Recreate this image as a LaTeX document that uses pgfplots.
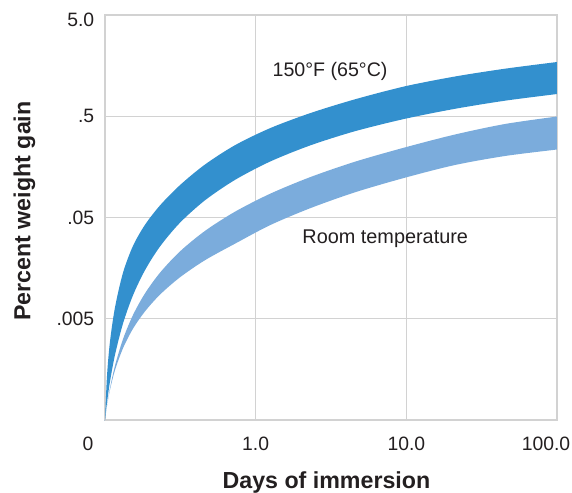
\documentclass[border=0pt]{standalone}
\usepackage{fontspec}
\setmainfont{Liberation Sans}
\usepackage{pgfplots}
\pgfplotsset{compat=1.18}

\definecolor{hotband}{RGB}{51,144,206}
\definecolor{roomband}{RGB}{123,172,220}
\definecolor{gridgray}{RGB}{210,210,210}
\definecolor{txt}{RGB}{35,31,32}

\begin{document}
\begin{tikzpicture}
\useasboundingbox (-78.75pt,-54.75pt) rectangle (350.25pt,315pt);
\begin{axis}[
  scale only axis,
  width=339pt, height=303.75pt,
  xmode=log, ymode=log,
  xmin=0.1, xmax=100, ymin=0.0005, ymax=5,
  xtick={0.1,1,10,100},
  xticklabels={\hbox to 0pt{\hss 0\hskip 25.5pt\hss}, 1.0, 10.0, \hbox to 0pt{\hss 100.0\hskip 16.5pt\hss}},
  ytick={0.005,0.05,0.5,5},
  yticklabels={.005, .05, .5, \raisebox{-3.75pt}[\height][0pt]{5.0}},
  xminorticks=false, yminorticks=false,
  major tick length=0pt,
  grid=major,
  major grid style={draw=gridgray, line width=1.1pt},
  axis line style={draw=gridgray, line width=1.1pt},
  /pgf/number format/assume math mode=true,
  ticklabel style={font=\fontsize{14.5}{17}\selectfont, text=txt},
  xticklabel style={anchor=base, yshift=-22.5pt},
  yticklabel style={anchor=east, inner sep=0pt, xshift=-7.9pt},
  xlabel={Days of immersion},
  ylabel={Percent weight gain},
  every axis x label/.style={at={(axis description cs:0.49,-0.168)}, anchor=base,
    font=\bfseries\fontsize{17.4}{20}\selectfont, text=txt},
  every axis y label/.style={at={(axis description cs:-0.178,0.516)}, rotate=90, anchor=center,
    font=\bfseries\fontsize{17.4}{20}\selectfont, text=txt},
]

% 150 F band: upper edge left to right, then lower edge right to left
\addplot[fill=hotband, draw=none, smooth, tension=0.5] coordinates {
  (0.1,0.0005) (0.1,0.0005) (0.1031,0.00136) (0.1079,0.002967) (0.1165,0.0064725)
  (0.1317,0.014249) (0.1534,0.02621) (0.1843,0.042352) (0.2318,0.06584) (0.3146,0.10447)
  (0.461,0.16689) (0.7291,0.25885) (1.2448,0.38103) (2.294,0.5359) (4.564,0.7352)
  (9.797,0.9881) (21.04,1.2347) (45.17,1.4743) (100,1.717) (100,1.717)
  (100,0.8294) (100,0.8294) (45.17,0.7121) (21.04,0.5923) (9.797,0.4719)
  (4.564,0.3559) (2.294,0.2571) (1.2448,0.17825) (0.7291,0.11758) (0.461,0.07394)
  (0.3146,0.04442) (0.2318,0.025856) (0.1843,0.015083) (0.1534,0.008523) (0.1317,0.004488)
  (0.1165,0.002198) (0.1079,0.001192) (0.1031,0.000739) (0.1,0.0005) (0.1,0.0005)
};

% room temperature band
\addplot[fill=roomband, draw=none, smooth, tension=0.5] coordinates {
  (0.1,0.0005) (0.1,0.0005) (0.1031,0.000692) (0.1079,0.0010306) (0.1165,0.0017229)
  (0.1317,0.0031477) (0.1534,0.005445) (0.1843,0.008899) (0.2318,0.01425) (0.3146,0.023129)
  (0.461,0.036867) (0.7291,0.05705) (1.2448,0.08572) (2.294,0.12502) (4.564,0.17787)
  (9.797,0.24622) (21.04,0.33016) (45.17,0.41921) (100,0.49717) (100,0.49717)
  (100,0.23473) (100,0.23473) (45.17,0.20248) (21.04,0.16501) (9.797,0.12361)
  (4.564,0.08869) (2.294,0.06164) (1.2448,0.041968) (0.7291,0.027555) (0.461,0.018934)
  (0.3146,0.012834) (0.2318,0.0086595) (0.1843,0.0059095) (0.1534,0.0039875) (0.1317,0.0025592)
  (0.1165,0.0015518) (0.1079,0.0009915) (0.1031,0.0006875) (0.1,0.0005) (0.1,0.0005)
};

\node[anchor=base, font=\fontsize{14.7}{17}\selectfont, text=txt]
  at (rel axis cs:0.498,0.849) {150°F (65°C)};
\node[anchor=base, font=\fontsize{14.9}{17}\selectfont, text=txt]
  at (rel axis cs:0.62,0.435) {Room temperature};
\end{axis}
\end{tikzpicture}
\end{document}
